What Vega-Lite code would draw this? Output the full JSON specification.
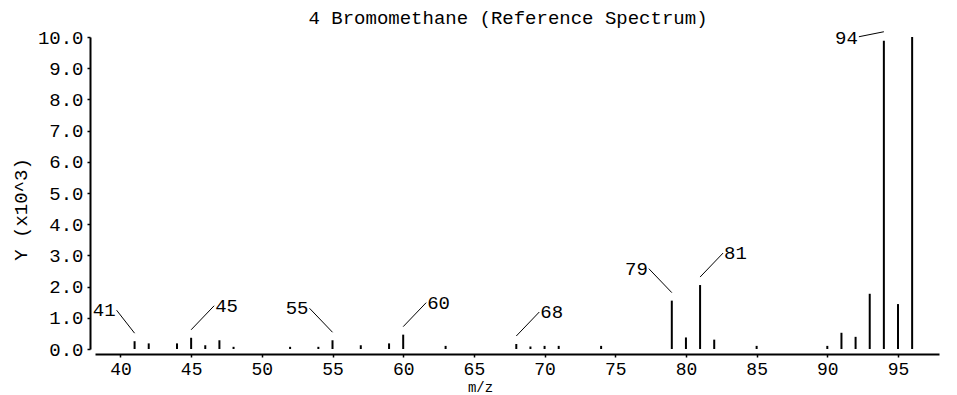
{
  "$schema": "https://vega.github.io/schema/vega-lite/v6.json",
  "width": 844,
  "height": 312,
  "autosize": "none",
  "padding": {"left": 95, "top": 37, "right": 18, "bottom": 46},
  "background": "white",
  "title": {
    "text": "4 Bromomethane (Reference Spectrum)",
    "font": "Liberation Mono",
    "fontSize": 19,
    "fontWeight": "normal",
    "color": "black",
    "anchor": "middle",
    "dx": -9,
    "baseline": "alphabetic",
    "offset": -15
  },
  "config": {
    "view": {"stroke": null},
    "font": "Liberation Mono",
    "axis": {
      "grid": false,
      "domainColor": "black",
      "domainWidth": 2,
      "tickColor": "black",
      "tickWidth": 1.5,
      "tickSize": 3,
      "labelFont": "Liberation Mono",
      "labelFontSize": 19,
      "labelColor": "black",
      "titleFont": "Liberation Mono",
      "titleFontSize": 19,
      "titleFontWeight": "normal",
      "titleColor": "black"
    }
  },
  "data": {
    "values": [
      {"mz": 41, "y": 0.25, "label": "41", "side": "leftshort"},
      {"mz": 42, "y": 0.18},
      {"mz": 44, "y": 0.18},
      {"mz": 45, "y": 0.36, "label": "45", "side": "right"},
      {"mz": 46, "y": 0.12},
      {"mz": 47, "y": 0.28},
      {"mz": 48, "y": 0.07},
      {"mz": 52, "y": 0.07},
      {"mz": 54, "y": 0.07},
      {"mz": 55, "y": 0.28, "label": "55", "side": "left"},
      {"mz": 57, "y": 0.12},
      {"mz": 59, "y": 0.18},
      {"mz": 60, "y": 0.46, "label": "60", "side": "right"},
      {"mz": 63, "y": 0.1},
      {"mz": 68, "y": 0.16, "label": "68", "side": "right"},
      {"mz": 69, "y": 0.08},
      {"mz": 70, "y": 0.1},
      {"mz": 71, "y": 0.1},
      {"mz": 74, "y": 0.1},
      {"mz": 79, "y": 1.55, "label": "79", "side": "left"},
      {"mz": 80, "y": 0.37},
      {"mz": 81, "y": 2.05, "label": "81", "side": "right"},
      {"mz": 82, "y": 0.3},
      {"mz": 85, "y": 0.1},
      {"mz": 90, "y": 0.1},
      {"mz": 91, "y": 0.52},
      {"mz": 92, "y": 0.39},
      {"mz": 93, "y": 1.77},
      {"mz": 94, "y": 9.88, "label": "94", "side": "top"},
      {"mz": 95, "y": 1.44},
      {"mz": 96, "y": 10.0}
    ]
  },
  "encoding": {
    "x": {
      "field": "mz",
      "type": "quantitative",
      "scale": {"domain": [38.2, 97.9], "nice": false, "zero": false},
      "axis": {
        "title": "m/z",
        "values": [40, 45, 50, 55, 60, 65, 70, 75, 80, 85, 90, 95],
        "offset": 5,
        "labelPadding": 3,
        "labelFontSize": 18,
        "labelFlush": false,
        "titleX": 385,
        "titleY": 40,
        "titleFontSize": 14,
        "titleAlign": "center",
        "titleBaseline": "bottom"
      }
    },
    "y": {
      "field": "y",
      "type": "quantitative",
      "scale": {"domain": [0, 10], "nice": false},
      "axis": {
        "title": "Y (x10^3)",
        "values": [0, 1, 2, 3, 4, 5, 6, 7, 8, 9, 10],
        "format": ".1f",
        "offset": 5,
        "labelPadding": 4,
        "titleAngle": -90,
        "titleX": -70,
        "titleY": 172,
        "titleAlign": "center",
        "titleBaseline": "middle"
      }
    }
  },
  "layer": [
    {
      "mark": {"type": "rule", "strokeWidth": 2, "color": "black"},
      "encoding": {"y2": {"datum": 0}}
    },
    {
      "transform": [{"filter": "datum.side == 'left'"}],
      "mark": {"type": "rule", "strokeWidth": 1, "color": "black", "yOffset": -8, "y2Offset": -32, "x2Offset": -23},
      "encoding": {"x2": {"field": "mz"}, "y2": {"field": "y"}}
    },
    {
      "transform": [{"filter": "datum.side == 'leftshort'"}],
      "mark": {"type": "rule", "strokeWidth": 1, "color": "black", "yOffset": -8, "y2Offset": -31, "x2Offset": -18},
      "encoding": {"x2": {"field": "mz"}, "y2": {"field": "y"}}
    },
    {
      "transform": [{"filter": "datum.side == 'right'"}],
      "mark": {"type": "rule", "strokeWidth": 1, "color": "black", "yOffset": -8, "y2Offset": -32, "x2Offset": 23},
      "encoding": {"x2": {"field": "mz"}, "y2": {"field": "y"}}
    },
    {
      "transform": [{"filter": "datum.side == 'top'"}],
      "mark": {"type": "rule", "strokeWidth": 1, "color": "black", "yOffset": -9, "y2Offset": -4, "x2Offset": -25},
      "encoding": {"x2": {"field": "mz"}, "y2": {"field": "y"}}
    },
    {
      "transform": [{"filter": "datum.side == 'left'"}],
      "mark": {"type": "text", "font": "Liberation Mono", "fontSize": 19, "color": "black", "align": "right", "baseline": "middle", "dx": -24, "dy": -32},
      "encoding": {"text": {"field": "label"}}
    },
    {
      "transform": [{"filter": "datum.side == 'leftshort'"}],
      "mark": {"type": "text", "font": "Liberation Mono", "fontSize": 19, "color": "black", "align": "right", "baseline": "middle", "dx": -19, "dy": -31},
      "encoding": {"text": {"field": "label"}}
    },
    {
      "transform": [{"filter": "datum.side == 'right'"}],
      "mark": {"type": "text", "font": "Liberation Mono", "fontSize": 19, "color": "black", "align": "left", "baseline": "middle", "dx": 24, "dy": -32},
      "encoding": {"text": {"field": "label"}}
    },
    {
      "transform": [{"filter": "datum.side == 'top'"}],
      "mark": {"type": "text", "font": "Liberation Mono", "fontSize": 19, "color": "black", "align": "right", "baseline": "middle", "dx": -26, "dy": -3},
      "encoding": {"text": {"field": "label"}}
    }
  ]
}
